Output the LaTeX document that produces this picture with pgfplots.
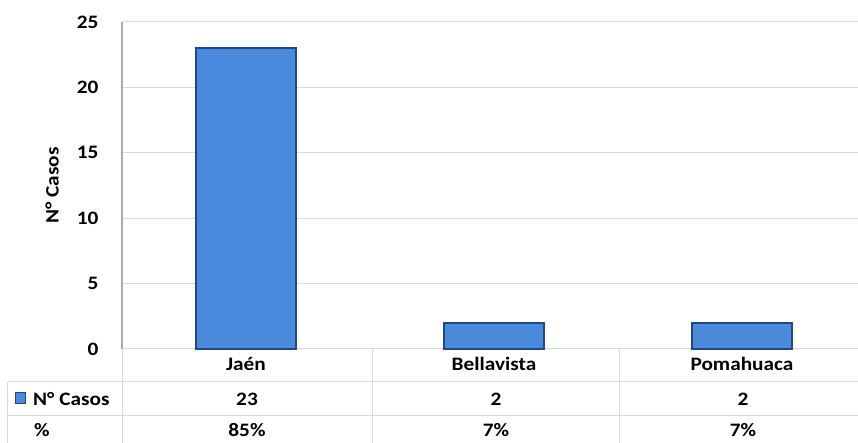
\documentclass[border=0pt]{standalone}
\usepackage{fontspec}
\setmainfont[FakeStretch=1.12]{Carlito}
\usepackage{pgfplots}
\pgfplotsset{compat=1.18}

\definecolor{barblue}{RGB}{74,138,220}
\definecolor{bardark}{RGB}{34,70,125}
\definecolor{gridgray}{RGB}{217,217,217}
\definecolor{axisgray}{RGB}{170,170,170}

\begin{document}
\begin{tikzpicture}[font=\fontsize{19}{22}\selectfont\bfseries]
  \useasboundingbox (-122pt,-94pt) rectangle (736pt,349pt);
  \begin{axis}[
      scale only axis,
      width=736pt,
      height=327pt,
      ybar,
      bar width=100pt,
      xmin=-0.5, xmax=2.468,
      ymin=0, ymax=25,
      ytick={0,5,...,25},
      xtick={0,1,2},
      xticklabels={Jaén,Bellavista,Pomahuaca},
      major tick length=0pt,
      ymajorgrids,
      grid style={gridgray, line width=1pt},
      axis lines*=left,
      x axis line style={gridgray, line width=1pt},
      y axis line style={axisgray, line width=1pt},
      /pgf/number format/assume math mode=true,
      yticklabel style={xshift=-20pt},
      xticklabel style={anchor=base, yshift=-22pt},
      ylabel={N° Casos},
      every axis y label/.style={at={(axis description cs:-0.0951,0.5)}, rotate=90, anchor=center},
      clip=false,
  ]
  \addplot[fill=barblue, draw=bardark, line width=2pt] coordinates {
      (0,23)
      (1,2)
      (2,2)
  };
  \end{axis}
  % data table below the chart
  \draw[gridgray, line width=1pt] (0,327pt) -- (0,-94pt);
  \draw[gridgray, line width=1pt] (250pt,0) -- (250pt,-94pt);
  \draw[gridgray, line width=1pt] (497pt,0) -- (497pt,-94pt);
  \draw[gridgray, line width=1pt] (-114pt,-33pt) -- (736pt,-33pt);
  \draw[gridgray, line width=1pt] (-114pt,-67pt) -- (736pt,-67pt);
  \draw[gridgray, line width=1pt] (-114pt,-33pt) -- (-114pt,-94pt);
  \draw[axisgray, line width=1pt] (0,327pt) -- (0,0);
  \filldraw[fill=barblue, draw=bardark, line width=1pt] (-106pt,-55pt) rectangle (-96pt,-44pt);
  \node[anchor=west, inner sep=0pt] at (-89pt,-50pt) {N° Casos};
  \node[inner sep=1pt] at (-80pt,-81pt) {\%};
  \node at (125pt,-50pt) {23};
  \node at (374pt,-50pt) {2};
  \node at (621pt,-50pt) {2};
  \node[inner sep=1pt] at (125pt,-81pt) {85\%};
  \node[inner sep=1pt] at (374pt,-81pt) {7\%};
  \node[inner sep=1pt] at (621pt,-81pt) {7\%};
\end{tikzpicture}
\end{document}
